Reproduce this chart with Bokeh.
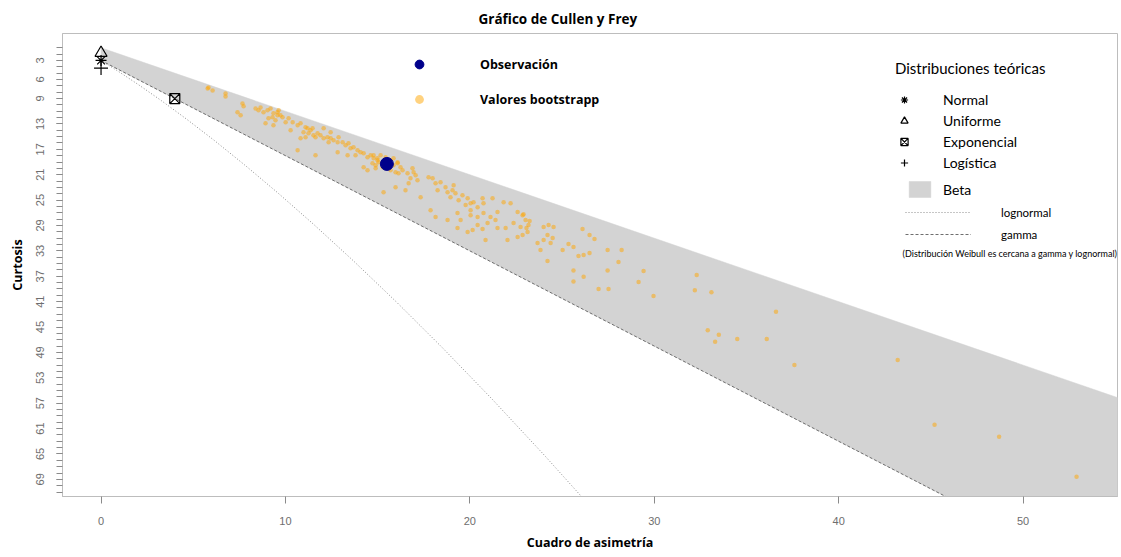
from bokeh.plotting import figure
from bokeh.models import Range1d, FixedTicker, Legend, LegendItem, Label
from bokeh.embed import file_html
from bokeh.resources import INLINE

# ---------------- data ----------------
x_tick_values = [0, 10, 20, 30, 40, 50]
y_tick_values = [3, 6, 9, 13, 17, 21, 25, 29, 33, 37, 41, 45, 49, 53, 57, 61, 65, 69]
y_minor_ticks = list(range(1, 72))

# Beta region (between kurt = skew^2 + 1 and the gamma line)
beta_skew2 = [0, 56, 56, 0]
beta_kurt = [1, 57, 87, 3]

# gamma line
gamma_skew2 = [0, 48]
gamma_kurt = [3, 75]

# lognormal line
lognormal_skew2 = [0, 0.961, 2.048, 3.267, 4.624, 6.125, 7.776, 9.583, 11.552,
                   13.689, 16.0, 18.491, 21.168, 24.037, 27.104]
lognormal_kurt = [3, 4.756, 6.85, 9.32, 12.21, 15.56, 19.43, 23.85, 28.88,
                  34.58, 41.0, 48.2, 56.24, 65.19, 75.1]

# theoretical distributions
normal_pt = ([0], [3])
uniform_pt = ([0], [1.8])
exponential_pt = ([4], [9])
logistic_pt = ([0], [4.2])

# observation
obs_skew2 = [15.5]
obs_kurt = [19.3]

# bootstrap values
boot_skew2 = [
    5.78, 6.05, 5.83, 6.75, 6.75, 7.67, 7.73, 8.38, 8.54, 8.65, 8.81, 9.03, 9.19, 9.35,
    9.57, 9.63, 9.84, 9.30, 9.08, 9.46, 10.01, 10.17, 9.73, 9.57, 7.40, 7.57, 9.35, 8.92,
    10.39, 10.66, 10.82, 11.09, 11.20, 11.36, 10.98, 11.25, 11.52, 11.47, 11.74, 11.63,
    11.09, 10.82, 11.90, 12.07, 12.28, 12.45, 12.34, 12.61, 12.83, 10.28, 10.66, 11.63,
    12.88, 13.10, 13.26, 13.42, 13.53, 13.69, 13.91, 14.07, 13.80, 14.24, 14.45, 14.62,
    14.78, 14.99, 14.72, 15.16, 15.43, 15.70, 15.86, 16.08, 15.27, 15.70, 14.24, 14.45,
    14.89, 12.83, 13.37, 12.45, 12.07,
    14.78, 14.99, 15.05, 14.89, 15.86, 16.08, 16.24, 15.97, 16.13, 16.35, 16.62, 16.89,
    16.95, 16.78, 17.06, 17.16, 16.68, 15.32, 15.97, 16.51, 17.33, 17.76, 17.98, 18.14,
    18.41, 18.68, 18.25, 18.79, 19.06, 19.22, 18.95, 19.39, 19.12, 19.60, 19.88, 20.04,
    19.77, 20.20, 20.42, 20.74, 20.69, 20.04, 17.87, 18.14, 18.79, 19.33, 19.50, 20.04,
    20.42, 20.74, 21.12, 21.50, 21.39, 20.96, 19.88, 20.15, 20.42, 19.33, 20.85, 20.69,
    21.23, 21.83, 22.21, 22.59, 22.86, 23.02, 23.18, 21.94, 21.50, 22.37, 22.75, 23.13,
    24.00, 24.27, 24.54, 24.21, 24.49, 24.00, 23.67, 24.38, 22.04, 22.59,
    22.91, 23.24, 23.07, 22.86, 23.83, 24.21, 25.03, 25.35, 25.62, 26.11, 26.49, 26.76,
    25.89, 26.17, 26.49, 25.62, 25.62, 26.17, 27.47, 28.23, 28.06, 27.47, 26.98, 27.52,
    29.42, 29.15, 29.96,
    32.3, 32.2, 33.1, 36.6, 32.9, 33.5, 33.3, 34.5, 36.1, 37.6, 43.2, 45.2, 48.7, 52.9,
]
boot_kurt = [
    7.40, 7.72, 7.24, 8.19, 8.66, 9.76, 10.23, 10.55, 10.86, 10.39, 11.17, 10.86, 10.55, 11.33,
    11.65, 10.86, 11.96, 11.96, 12.12, 12.43, 12.75, 12.12, 11.65, 11.17, 11.17, 11.65, 13.22, 12.90,
    12.75, 13.22, 12.90, 13.53, 13.69, 14.00, 14.32, 14.48, 14.79, 13.69, 14.48, 15.10,
    15.10, 15.26, 14.79, 15.26, 15.10, 15.26, 15.89, 15.58, 15.89, 14.00, 17.15, 17.93,
    15.10, 15.89, 16.36, 16.05, 16.83, 16.68, 17.15, 17.46, 17.93, 17.62, 18.25, 17.93,
    18.41, 18.72, 19.19, 17.93, 18.25, 18.72, 18.41, 19.03, 19.82, 20.29, 19.82, 20.29,
    19.98, 17.46, 17.93, 14.32, 13.69,
    17.93, 18.41, 19.03, 19.51, 19.51, 19.19, 19.82, 20.61, 20.76, 20.29, 20.76, 19.98,
    20.61, 21.55, 21.08, 21.86, 22.34, 23.75, 22.96, 23.44, 24.54, 21.39, 21.55, 22.34,
    22.18, 22.96, 23.44, 23.75, 23.44, 23.91, 24.54, 25.01, 22.65, 24.22, 24.69, 25.48,
    25.79, 25.32, 26.11, 25.48, 24.69, 26.58, 26.58, 27.68, 28.15, 27.05, 28.15, 27.37,
    27.68, 27.05, 27.68, 26.89, 28.15, 28.62, 30.04, 29.72, 28.94, 29.41, 31.30, 29.57,
    24.69, 25.32, 25.48, 26.89, 27.37, 28.15, 28.94, 29.41, 29.41, 28.62, 29.25, 30.04,
    29.25, 28.94, 29.25, 30.51, 30.98, 31.30, 31.77, 31.77, 31.30, 30.83,
    27.21, 28.31, 29.41, 30.51, 32.86, 34.59, 32.86, 31.93, 32.40, 29.57, 30.51, 31.14,
    33.81, 33.65, 33.34, 36.11, 37.84, 37.06, 32.86, 32.86, 34.75, 36.11, 39.00, 39.00,
    36.17, 37.90, 40.10,
    36.8, 39.2, 39.5, 42.6, 45.5, 46.2, 47.3, 46.9, 46.9, 51.0, 50.2, 60.4, 62.3, 68.6,
]

# ---------------- figure ----------------
p = figure(width=1119, height=553,
           x_range=Range1d(-2.09, 55.12), y_range=Range1d(71.7, -1.25),
           output_backend="svg", toolbar_location=None,
           min_border_left=62, min_border_right=2, min_border_top=33, min_border_bottom=56,
           title="Gráfico de Cullen y Frey")

p.xgrid.visible = False
p.ygrid.visible = False
p.outline_line_color = "#bdbdbd"
p.background_fill_color = "white"
p.border_fill_color = "white"

p.title.align = "left"
p.title.offset = 416
p.title.text_font = "Open Sans"
p.title.text_font_style = "bold"
p.title.text_font_size = "13.5px"
p.title.text_color = "black"
p.title.standoff = 12

for ax in (p.xaxis[0], p.yaxis[0]):
    ax.axis_line_color = "#bdbdbd"
    ax.major_tick_line_color = "#8a8a8a"
    ax.minor_tick_line_color = "#8a8a8a"
    ax.major_label_text_color = "#6e6e6e"
    ax.major_label_text_font = "Liberation Sans"
    ax.major_label_text_font_size = "11px"
    ax.axis_label_text_font = "Open Sans"
    ax.axis_label_text_font_style = "bold"
    ax.axis_label_text_font_size = "12.5px"
    ax.axis_label_text_color = "black"
    ax.major_tick_in = 0
    ax.minor_tick_in = 0

p.xaxis.ticker = FixedTicker(ticks=x_tick_values, minor_ticks=[])
p.xaxis.major_tick_out = 7
p.xaxis.major_label_standoff = 13
p.xaxis.axis_label = "Cuadro de asimetría"
p.xaxis.axis_label_standoff = 6

p.yaxis.ticker = FixedTicker(ticks=y_tick_values, minor_ticks=y_minor_ticks)
p.yaxis.major_tick_out = 6
p.yaxis.minor_tick_out = 6
p.yaxis.major_label_orientation = "vertical"
p.yaxis.major_label_standoff = 12
p.yaxis.axis_label = "Curtosis"
p.yaxis.axis_label_standoff = 8

# ---------------- glyphs ----------------
beta_r = p.patch(beta_skew2, beta_kurt, fill_color="#d3d3d3", line_color="#d3d3d3", line_width=0.5)
logn_r = p.line(lognormal_skew2, lognormal_kurt, line_color="#8c8c8c", line_width=1, line_dash="1 2")
gamma_r = p.line(gamma_skew2, gamma_kurt, line_color="#6e6e6e", line_width=1, line_dash="3 2")

boot_r = p.scatter(boot_skew2, boot_kurt, size=4.5, marker="circle",
                   fill_color="orange", fill_alpha=0.5, line_color=None)
obs_r = p.scatter(obs_skew2, obs_kurt, size=13, marker="circle",
                  fill_color="#00008b", line_color="#00008b")

norm_r = p.scatter(*normal_pt, marker="asterisk", size=11, line_color="black", line_width=1.2)
unif_r = p.scatter(*uniform_pt, marker="triangle", size=12, fill_color=None, line_color="black", line_width=1.2)
expo_r = p.scatter(*exponential_pt, marker="square_x", size=10, fill_color=None, line_color="black", line_width=1.2)
logi_r = p.scatter(*logistic_pt, marker="cross", size=14, line_color="black", line_width=1.2)

# ---------------- legends ----------------
common = dict(padding=0, margin=0, border_line_color=None, background_fill_alpha=0,
              label_text_color="black")

leg_obs = Legend(items=[LegendItem(label="Observación", renderers=[obs_r]),
                        LegendItem(label="Valores bootstrapp", renderers=[boot_r])],
                 location=(346, 386), glyph_width=22, glyph_height=22, label_height=22,
                 spacing=13, label_standoff=50,
                 label_text_font="Open Sans", label_text_font_style="bold",
                 label_text_font_size="12.5px", **common)

leg_dist = Legend(title="Distribuciones teóricas",
                  items=[LegendItem(label="Normal", renderers=[norm_r]),
                         LegendItem(label="Uniforme", renderers=[unif_r]),
                         LegendItem(label="Exponencial", renderers=[expo_r]),
                         LegendItem(label="Logística", renderers=[logi_r])],
                  location=(833, 323), glyph_width=18, glyph_height=21, label_height=21,
                  spacing=0, label_standoff=30, title_standoff=12,
                  title_text_font="Lato", title_text_font_style="normal",
                  title_text_font_size="15px", title_text_color="black",
                  label_text_font="Lato", label_text_font_size="14px", **common)

leg_beta = Legend(items=[LegendItem(label="Beta", renderers=[beta_r])],
                  location=(844, 297), glyph_width=27, glyph_height=20, label_height=20,
                  label_standoff=10, label_text_font="Lato", label_text_font_size="14px", **common)

leg_lines = Legend(items=[LegendItem(label="lognormal", renderers=[logn_r]),
                          LegendItem(label="gamma", renderers=[gamma_r])],
                   location=(843, 252), glyph_width=66, glyph_height=20, label_height=20,
                   spacing=2, label_standoff=30, label_text_font="Lato",
                   label_text_font_size="11.5px", **common)

for lg in (leg_obs, leg_dist, leg_beta, leg_lines):
    p.add_layout(lg)

note = Label(x=1055, y=243, x_units="screen", y_units="screen",
             text="(Distribución Weibull es cercana a gamma y lognormal)",
             text_align="right", text_baseline="middle",
             text_font="Lato", text_font_size="9px", text_color="black")
p.add_layout(note)

open("out.html", "w").write(file_html(p, INLINE))
